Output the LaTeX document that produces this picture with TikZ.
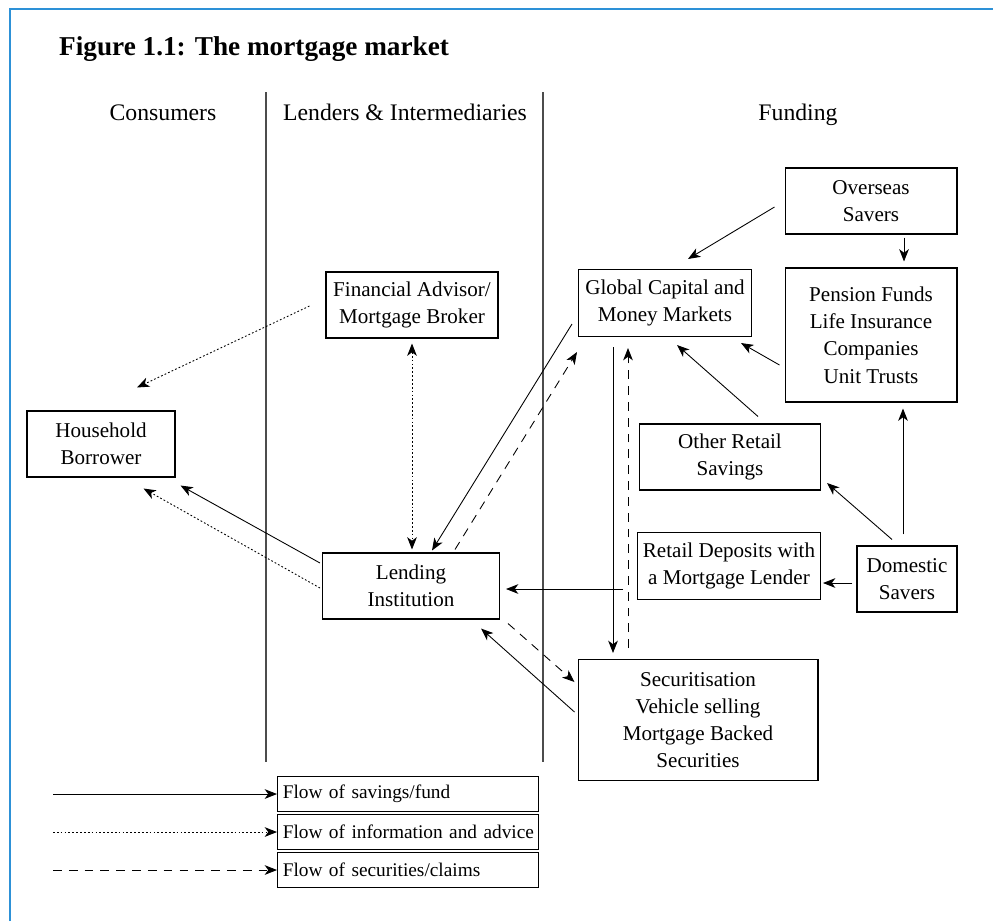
\documentclass[tikz,border=0pt]{standalone}
\usepackage{fontspec}
\setmainfont{Liberation Serif}
\usepackage{xcolor}
\usetikzlibrary{calc,arrows.meta,positioning}
\definecolor{framecol}{RGB}{45,145,215}
\tikzset{
  box/.style={draw, line width=0.6pt, align=center, inner sep=2pt, font=\fontsize{12}{15.5}\selectfont},
  legbox/.style={draw, line width=0.6pt, anchor=west, align=left, text width=5.0cm, minimum height=0.7cm, inner xsep=3pt, inner ysep=2pt, font=\fontsize{11}{13}\selectfont},
  heading/.style={anchor=base, font=\fontsize{13.5}{16}\selectfont},
  divider/.style={draw=black!70, line width=0.8pt},
  flow/.style={line width=0.5pt, -{Stealth[length=7pt,width=5.5pt,inset=2pt]}},
  advice/.style={flow, dash pattern=on 1pt off 1.2pt},
  claims/.style={flow, dash pattern=on 5pt off 4pt}
}
\begin{document}
\begin{tikzpicture}[x=0.02cm, y=-0.02cm]
\useasboundingbox (0,0) rectangle (993,921);
\draw[framecol, line width=1.2pt] (10,921) -- (10,9) -- (993,9);

\node[anchor=base west, font=\bfseries\fontsize{15.5}{18}\selectfont] (title) at (53,55) {Figure 1.1: The mortgage market};
\node[heading] (hcons) at (163,120) {Consumers};
\node[heading] (hlend) at (405,120) {Lenders \& Intermediaries};
\node[heading] (hfund) at (798,120) {Funding};

\draw[divider] (266,92) -- (266,762);
\draw[divider] (543,92) -- (543,762);

\node[box, minimum width=2.96cm, minimum height=1.32cm] (hb) at (101,444) {Household\\Borrower};
\node[box, minimum width=3.44cm, minimum height=1.32cm] (fa) at (412,305) {Financial Advisor/\\Mortgage Broker};
\node[box, minimum width=3.54cm, minimum height=1.32cm] (li) at (411,586) {Lending\\Institution};
\node[box, minimum width=3.46cm, minimum height=1.34cm] (gcm) at (665,303) {Global Capital and\\Money Markets};
\node[box, minimum width=3.44cm, minimum height=1.32cm] (os) at (871,201) {Overseas\\Savers};
\node[box, minimum width=3.44cm, minimum height=2.68cm] (pf) at (871,335) {Pension Funds\\Life Insurance\\Companies\\Unit Trusts};
\node[box, minimum width=3.62cm, minimum height=1.32cm] (ors) at (730,457) {Other Retail\\Savings};
\node[box, minimum width=3.66cm, minimum height=1.34cm] (rd) at (729,566) {Retail Deposits with\\a Mortgage Lender};
\node[box, minimum width=2.00cm, minimum height=1.32cm] (ds) at (907,579) {Domestic\\Savers};
\node[box, minimum width=4.80cm, minimum height=2.42cm] (sec) at (698,720) {Securitisation\\Vehicle selling\\Mortgage Backed\\Securities};

\draw[flow] ($(os.west)+(-10,6)$) -- ($(gcm.north)+(23,-10)$);
\draw[flow] ($(os.south)+(33,3)$) -- ($(pf.north)+(33,-6)$);
\draw[flow] ($(pf.west)+(-5,30)$) -- ($(gcm.south east)+(-11,6)$);
\draw[flow] ($(ors.north)+(28,-7)$) -- ($(gcm.south)+(12,8)$);
\draw[flow] ($(ds.north)+(-15,-6)$) -- ($(ors.east)+(6,26)$);
\draw[flow] ($(ds.north)+(-4,-11)$) -- ($(pf.south)+(32,6)$);
\draw[flow] ($(ds.west)+(-4,4)$) -- ($(rd.east)+(2,17)$);
\draw[flow] ($(rd.west)+(-14,23)$) -- ($(li.east)+(6,3)$);
\draw[flow] ($(gcm.south)+(-52,10)$) -- ($(sec.north)+(-85,-6)$);
\draw[claims] ($(sec.north)+(-70,-11)$) -- ($(gcm.south)+(-37,11)$);
\draw[flow] ($(gcm.west)+(-6,21)$) -- ($(li.north)+(21,-2)$);
\draw[claims] ($(li.north)+(44,-3)$) -- ($(gcm.south west)+(-1,15)$);
\draw[claims] ($(li.south east)+(8,4)$) -- ($(sec.west)+(-3,-38)$);
\draw[flow] ($(sec.west)+(-3,-8)$) -- ($(li.south east)+(-19,9)$);
\draw[flow] ($(li.west)+(-2,-23)$) -- ($(hb.south east)+(5,8)$);
\draw[advice] ($(li.west)+(-2,2)$) -- ($(hb.south east)+(-32,11)$);
\draw[advice] ($(fa.west)+(-16,1)$) -- ($(hb.north)+(36,-23)$);
\draw[advice, {Stealth[length=7pt,width=5.5pt,inset=2pt]}-{Stealth[length=7pt,width=5.5pt,inset=2pt]}] ($(fa.south)+(0,5)$) -- ($(li.north)+(1,-3)$);

\node[legbox] (lfund) at (277,794) {\mbox{Flow of savings/fund}};
\node[legbox] (linfo) at (277,832) {\mbox{Flow of information and advice}};
\node[legbox] (lsec) at (277,870) {\mbox{Flow of securities/claims}};
\coordinate (kfund) at (53,794);
\coordinate (kinfo) at (53,832);
\coordinate (ksec) at (53,870);
\draw[flow] (kfund) -- (lfund.west);
\draw[advice] (kinfo) -- (linfo.west);
\draw[claims] (ksec) -- (lsec.west);
\end{tikzpicture}
\end{document}
